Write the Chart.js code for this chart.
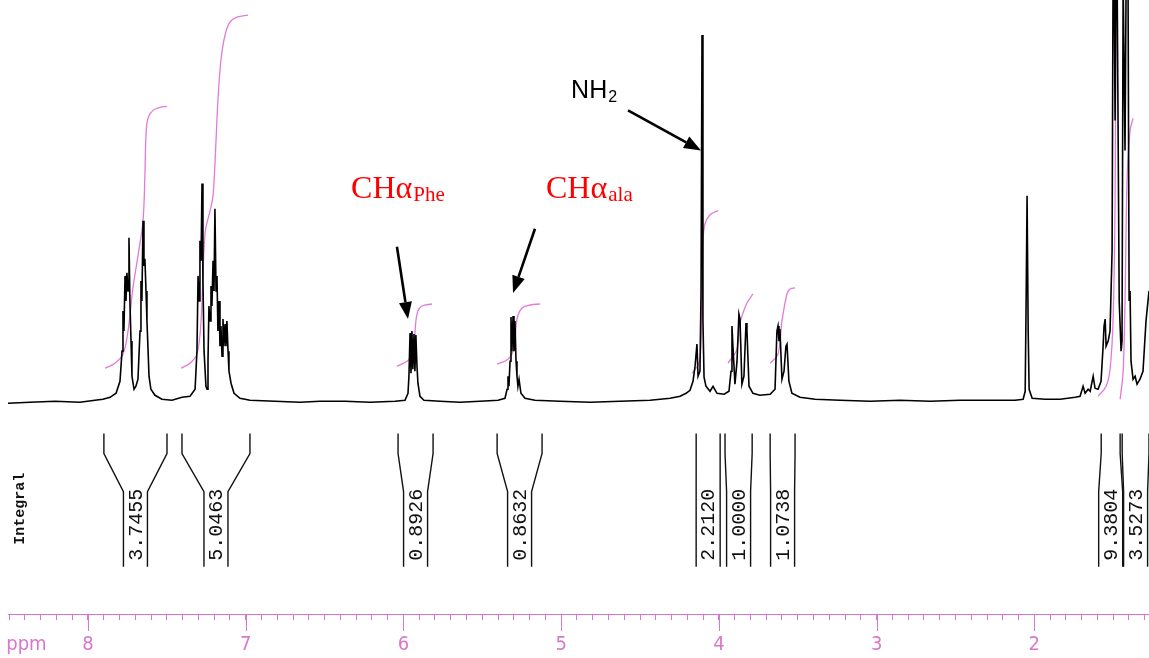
<!DOCTYPE html>
<html>
<head>
<meta charset="utf-8">
<title>1H NMR</title>
<script src="https://cdn.jsdelivr.net/npm/chart.js@4.4.1/dist/chart.umd.min.js"></script>
<style>
  html, body { margin: 0; padding: 0; background: #fff; }
  #wrap { position: relative; width: 1149px; height: 658px; }
</style>
</head>
<body>
<div id="wrap"><canvas id="nmr"></canvas></div>
<script>
// Spectrum trace: [ppm, relative intensity]
const spectrum = [
  [8.507, -0.5], [8.368, -0.25], [8.209, 0], [8.051, -0.25], [7.956, 0.25],
  // aromatic 7.7 ppm
  [7.905, 0.5], [7.860, 1], [7.822, 2], [7.797, 5], [7.784, 12.5], [7.778, 22.5], [7.772, 17.5],
  [7.765, 31.25], [7.759, 25], [7.753, 32], [7.746, 27.5], [7.740, 40.75], [7.734, 25], [7.727, 15],
  [7.721, 6.25], [7.708, 3], [7.696, 3.75], [7.683, 5.5], [7.670, 17.5], [7.664, 30], [7.658, 25],
  [7.651, 45], [7.645, 33.75], [7.639, 35.5], [7.632, 27.5], [7.626, 20], [7.620, 13.75], [7.613, 6.25],
  [7.601, 3], [7.575, 1.5], [7.531, 0.5], [7.467, 0.25], [7.404, 1], [7.353, 1.25],
  // aromatic 7.2 ppm
  [7.321, 3], [7.309, 12.5], [7.302, 31.25], [7.296, 25], [7.290, 40], [7.283, 35], [7.277, 54.25],
  [7.271, 30], [7.264, 12.5], [7.252, 3.75], [7.245, 3], [7.239, 10], [7.233, 23.75], [7.226, 20],
  [7.220, 28.75], [7.214, 23.75], [7.207, 35], [7.201, 27.5], [7.195, 48], [7.188, 27.5], [7.182, 31.25],
  [7.176, 17.5], [7.169, 25], [7.163, 13.75], [7.157, 18.75], [7.150, 11.25], [7.144, 20.5], [7.138, 13.75],
  [7.131, 19.25], [7.125, 13.75], [7.119, 20], [7.112, 12.5], [7.106, 7.5], [7.093, 4.5], [7.074, 2],
  [7.036, 0.75], [6.973, 0.25],
  [6.814, 0], [6.656, -0.25], [6.529, 0], [6.370, 0], [6.212, -0.25], [6.053, 0],
  // CH alpha Phe
  [5.990, 0.25], [5.971, 2], [5.965, 6.25], [5.958, 17], [5.952, 7], [5.946, 17.5], [5.940, 8],
  [5.933, 16.75], [5.927, 7.5], [5.921, 16.5], [5.914, 8.75], [5.908, 4.5], [5.895, 1.25], [5.870, 0.25],
  [5.768, 0], [5.641, -0.25], [5.515, 0], [5.400, 0.25],
  // CH alpha ala
  [5.356, 0.75], [5.343, 3], [5.337, 6.25], [5.331, 3.75], [5.324, 10], [5.318, 21], [5.312, 12.5],
  [5.305, 21.25], [5.299, 12.5], [5.293, 20], [5.286, 10], [5.280, 6.25], [5.274, 3.75], [5.267, 5.5],
  [5.255, 2], [5.229, 0.75], [5.166, 0.25],
  [5.007, 0], [4.817, -0.25], [4.627, 0], [4.436, 0.25], [4.309, 0.75],
  // NH2 and 3.9 / 3.6 ppm groups
  [4.246, 1.25], [4.208, 2], [4.183, 2.75], [4.164, 5], [4.151, 8.75], [4.139, 14.25], [4.132, 6.25],
  [4.120, 7.5], [4.113, 27.5], [4.107, 91.25], [4.101, 20], [4.094, 6], [4.082, 3.75], [4.056, 2.5],
  [4.037, 3.75], [4.012, 2], [3.967, 1.75], [3.936, 2.5], [3.923, 7.5], [3.917, 18.75], [3.911, 13.75],
  [3.898, 4.25], [3.885, 10], [3.873, 21.75], [3.866, 20.5], [3.854, 4.25], [3.841, 6.25], [3.828, 19.5],
  [3.822, 17.5], [3.809, 3.75], [3.784, 2], [3.740, 1.5], [3.675, 1.75], [3.644, 3], [3.632, 17.5],
  [3.625, 18.75], [3.619, 15], [3.613, 18], [3.600, 5.5], [3.587, 7.5], [3.575, 13.75], [3.568, 14.25],
  [3.556, 5], [3.537, 2], [3.486, 1], [3.390, 0.5],
  [3.231, 0.25], [3.041, 0], [2.851, 0.25], [2.661, 0], [2.471, 0.25], [2.280, 0.25], [2.122, 0.25],
  // 2.05 ppm singlet
  [2.071, 0.5], [2.058, 2.5], [2.052, 25], [2.046, 51.25], [2.039, 17.5], [2.033, 3], [2.014, 0.75],
  // aliphatic end
  [1.931, 0.5], [1.836, 0.5], [1.741, 1], [1.710, 1.25], [1.691, 3.75], [1.678, 2], [1.659, 3],
  [1.646, 2.5], [1.627, 6.25], [1.615, 3.25], [1.596, 3], [1.577, 5], [1.564, 13.75], [1.558, 18.75],
  [1.551, 20.5], [1.545, 13.75], [1.532, 15], [1.520, 17.5], [1.507, 37.5], [1.501, 105], [1.494, 105],
  [1.488, 70], [1.482, 105], [1.475, 105], [1.462, 25], [1.450, 12.5], [1.444, 15], [1.437, 105],
  [1.425, 62.5], [1.418, 105], [1.406, 105], [1.399, 25], [1.393, 27.5], [1.387, 10], [1.374, 5.5],
  [1.361, 6.25], [1.349, 4.25], [1.330, 5.5], [1.311, 7.5], [1.292, 20], [1.273, 27.5]
];

// Integral curves (pink)
const intAro1 = [[7.892, 8.25], [7.829, 9.5], [7.778, 11.75], [7.746, 17.5], [7.715, 28.25], [7.683, 36.25],
  [7.651, 45], [7.639, 56.25], [7.632, 66.25], [7.620, 70.5], [7.588, 72.5], [7.544, 73.25], [7.499, 73.5]];
const intAro2 = [[7.410, 8.25], [7.353, 9.5], [7.309, 11.75], [7.283, 20], [7.258, 41.75], [7.226, 47.5],
  [7.207, 51.25], [7.188, 65], [7.176, 75], [7.157, 85], [7.131, 91.25], [7.100, 94.5], [7.055, 95.75], [6.985, 96.25]];
const intPhe = [[6.041, 8.75], [5.977, 10], [5.946, 11.25], [5.933, 13.75], [5.921, 20], [5.908, 22.5],
  [5.882, 23.75], [5.819, 24.25]];
const intAla = [[5.406, 9.25], [5.337, 10.5], [5.305, 12.5], [5.293, 15], [5.280, 20.5], [5.248, 23.25],
  [5.197, 24], [5.134, 24.25]];
const intNH2 = [[4.170, 7], [4.126, 9.5], [4.113, 15], [4.107, 27.5], [4.101, 40], [4.088, 44.25],
  [4.056, 46.5], [4.005, 47.5]];
const int39 = [[3.942, 9.5], [3.885, 13], [3.866, 19.5], [3.847, 22], [3.822, 24.5], [3.784, 26.75]];
const int36 = [[3.675, 9.5], [3.625, 11.75], [3.600, 20], [3.568, 26.75], [3.549, 28], [3.517, 28.25]];
const int15a = [[1.596, 1.25], [1.545, 3.75], [1.520, 8], [1.501, 20], [1.488, 50], [1.482, 105]];
const int15b = [[1.456, 0.5], [1.437, 7.5], [1.425, 25], [1.412, 55], [1.393, 67.5], [1.374, 70.5]];

// Integral regions and printed values
const integralFrom = [7.899, 7.404, 6.034, 5.406, 4.144, 3.961, 3.675, 1.576, 1.443];
const integralTo = [7.499, 6.973, 5.812, 5.121, 3.992, 3.789, 3.517, 1.456, 1.273];
const integralText = ['3.7455', '5.0463', '0.8926', '0.8632', '2.2120', '1.0000', '1.0738', '9.3804', '3.5273'];

// Axis
const PPM_MIN = 1.273;
const PPM_MAX = 8.507;
const majorTicks = [2, 3, 4, 5, 6, 7, 8];

const PINK = '#d977cc';
const INT_PINK = '#e27ad8';
const RED = '#ff0000';
const TICK_FONT = "'Liberation Sans Narrow', 'DejaVu Sans Condensed', 'Liberation Sans', sans-serif";

// Annotation positions in data units (ppm, intensity)
const textNotes = [
  { main: 'NH', sub: '2', ppm: 4.937, v: 75.5, color: '#000', font: 'Liberation Sans, Arial, sans-serif', size: 25, subSize: 16, subDrop: 4 },
  { main: 'CH\u03b1', sub: 'Phe', ppm: 6.332, v: 50.75, color: RED, font: 'Liberation Serif, Times New Roman, serif', size: 32, subSize: 21, subDrop: 3 },
  { main: 'CH\u03b1', sub: 'ala', ppm: 5.096, v: 50.75, color: RED, font: 'Liberation Serif, Times New Roman, serif', size: 32, subSize: 21, subDrop: 3 }
];
const arrows = [
  { from: [4.576, 72.5], to: [4.113, 62.5] },
  { from: [6.041, 38.5], to: [5.971, 20.5] },
  { from: [5.166, 43], to: [5.305, 27] }
];

const toXY = pts => pts.map(p => ({ x: p[0], y: p[1] }));

function integralSet(pts) {
  return {
    data: toXY(pts),
    borderColor: INT_PINK,
    borderWidth: 1.3,
    pointRadius: 0,
    showLine: true,
    tension: 0.35,
    fill: false
  };
}

// Extra drawing: long ruler ticks, 'ppm', integral brackets, labels, arrows
const nmrExtras = {
  id: 'nmrExtras',
  afterDraw(chart) {
    const { ctx, chartArea } = chart;
    const xs = chart.scales.x;
    const ys = chart.scales.y;
    const bottom = chartArea.bottom;

    ctx.save();
    // integer ticks are longer
    ctx.strokeStyle = PINK;
    ctx.lineWidth = 1;
    majorTicks.forEach(v => {
      const px = Math.round(xs.getPixelForValue(v)) + 0.5;
      ctx.beginPath();
      ctx.moveTo(px, bottom);
      ctx.lineTo(px, bottom + 17);
      ctx.stroke();
    });
    ctx.fillStyle = PINK;
    ctx.font = '20px ' + TICK_FONT;
    ctx.textAlign = 'center';
    ctx.textBaseline = 'top';
    ctx.fillText('ppm', xs.getPixelForValue(8.39), bottom + 21);

    // integral brackets
    const yTop = ys.getPixelForValue(-8);
    const yKnee = ys.getPixelForValue(-13);
    const yNeck = ys.getPixelForValue(-22.5);
    const yBot = ys.getPixelForValue(-41.25);
    const yText = ys.getPixelForValue(-30.75);
    ctx.strokeStyle = '#111';
    ctx.lineWidth = 1.4;
    ctx.fillStyle = '#111';
    ctx.font = "20px 'Liberation Mono', 'DejaVu Sans Mono', monospace";
    integralFrom.forEach((from, i) => {
      const xl = xs.getPixelForValue(from);
      const xr = xs.getPixelForValue(integralTo[i]);
      const cx = (xl + xr) / 2;
      [[xl, cx - 12], [xr, cx + 12]].forEach(([xo, xi]) => {
        ctx.beginPath();
        ctx.moveTo(xo, yTop);
        ctx.lineTo(xo, yKnee);
        ctx.lineTo(xi, yNeck);
        ctx.lineTo(xi, yBot);
        ctx.stroke();
      });
      ctx.save();
      ctx.translate(cx + 1, yText);
      ctx.rotate(-Math.PI / 2);
      ctx.textAlign = 'center';
      ctx.textBaseline = 'middle';
      ctx.fillText(integralText[i], 0, 0);
      ctx.restore();
    });
    ctx.save();
    ctx.font = "bold 15px 'Liberation Mono', 'DejaVu Sans Mono', monospace";
    ctx.translate(xs.getPixelForValue(8.431), ys.getPixelForValue(-26.75));
    ctx.rotate(-Math.PI / 2);
    ctx.textAlign = 'center';
    ctx.textBaseline = 'middle';
    ctx.fillText('Integral', 0, 0);
    ctx.restore();

    // peak labels
    textNotes.forEach(n => {
      const px = xs.getPixelForValue(n.ppm);
      const py = ys.getPixelForValue(n.v);
      ctx.fillStyle = n.color;
      ctx.textAlign = 'left';
      ctx.textBaseline = 'alphabetic';
      ctx.font = n.size + 'px ' + n.font;
      ctx.fillText(n.main, px, py);
      const w = ctx.measureText(n.main).width;
      ctx.font = n.subSize + 'px ' + n.font;
      ctx.fillText(n.sub, px + w + 1, py + n.subDrop);
    });

    // arrows
    ctx.strokeStyle = '#000';
    ctx.fillStyle = '#000';
    ctx.lineWidth = 2.6;
    arrows.forEach(a => {
      const x1 = xs.getPixelForValue(a.from[0]), y1 = ys.getPixelForValue(a.from[1]);
      const x2 = xs.getPixelForValue(a.to[0]), y2 = ys.getPixelForValue(a.to[1]);
      const ang = Math.atan2(y2 - y1, x2 - x1);
      const head = 17, half = 6.5;
      const bx = x2 - head * Math.cos(ang), by = y2 - head * Math.sin(ang);
      ctx.beginPath();
      ctx.moveTo(x1, y1);
      ctx.lineTo(bx, by);
      ctx.stroke();
      ctx.beginPath();
      ctx.moveTo(x2, y2);
      ctx.lineTo(bx + half * Math.sin(ang), by - half * Math.cos(ang));
      ctx.lineTo(bx - half * Math.sin(ang), by + half * Math.cos(ang));
      ctx.closePath();
      ctx.fill();
    });
    ctx.restore();
  }
};

new Chart(document.getElementById('nmr'), {
  type: 'scatter',
  data: {
    datasets: [
      {
        data: toXY(spectrum),
        borderColor: '#000',
        borderWidth: 1.6,
        pointRadius: 0,
        showLine: true,
        tension: 0,
        fill: false
      },
      integralSet(intAro1), integralSet(intAro2), integralSet(intPhe), integralSet(intAla),
      integralSet(intNH2), integralSet(int39), integralSet(int36), integralSet(int15a), integralSet(int15b)
    ]
  },
  options: {
    responsive: true,
    maintainAspectRatio: false,
    animation: false,
    events: [],
    // axis height = tick 6 + label 20 + 2 x padding 15; negative bottom pulls ruler down to y~614
    layout: { padding: { left: 8, right: 0, top: 0, bottom: -12 } },
    plugins: { legend: { display: false }, tooltip: { enabled: false } },
    scales: {
      x: {
        type: 'linear',
        reverse: true,
        min: PPM_MIN,
        max: PPM_MAX,
        afterBuildTicks: axis => {
          const t = [];
          for (let i = 13; i <= 85; i++) t.push({ value: i / 10 });
          axis.ticks = t;
        },
        grid: { drawOnChartArea: false, drawTicks: true, tickLength: 6, color: PINK, tickColor: PINK },
        border: { color: PINK, width: 1 },
        ticks: {
          autoSkip: false,
          maxRotation: 0,
          padding: 15,
          color: PINK,
          font: { family: TICK_FONT, size: 20, lineHeight: 1 },
          callback: v => (Math.abs(v - Math.round(v)) < 1e-6 ? String(Math.round(v)) : '')
        }
      },
      y: {
        display: false,
        min: -53,
        max: 100
      }
    }
  },
  plugins: [nmrExtras]
});
</script>
</body>
</html>
